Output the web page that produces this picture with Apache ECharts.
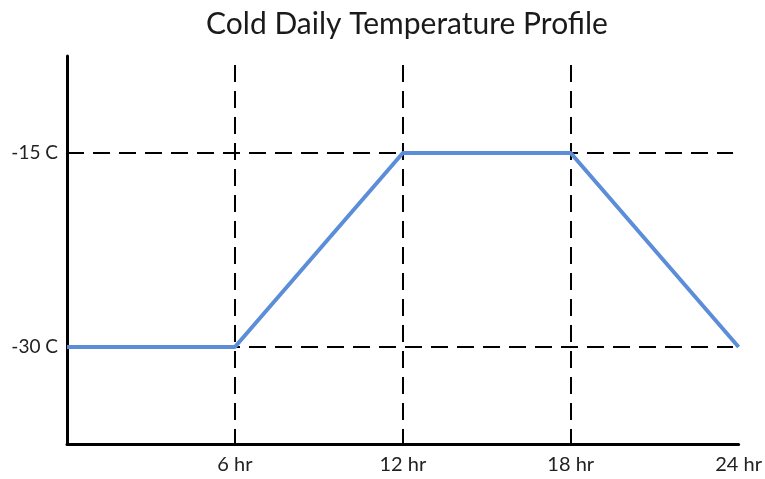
<!DOCTYPE html>
<html><head><meta charset="utf-8">
<script src="https://cdn.jsdelivr.net/npm/echarts@6/dist/echarts.min.js"></script>
<style>html,body{margin:0;padding:0;background:#fff}#c{width:765px;height:479px}</style>
</head><body><div id="c"></div>
<script>
const hours = [0, 6, 12, 18, 24];
const temps = [-30, -30, -15, -15, -30];
const xTickLabels = {6: '6 hr', 12: '12 hr', 18: '18 hr', 24: '24 hr'};
const yTickLabels = {'-15': '-15 C', '-30': '-30 C'};
const guideHours = [6, 12, 18];
const guideTemps = [-15, -30];
const guideTop = -8.2;
const guideRight = 23.8;
const FONT = 'Lato';

const chart = echarts.init(document.getElementById('c'));
chart.setOption({
  animation: false,
  title: {text: 'Cold Daily Temperature Profile', left: 402, textAlign: 'center', top: 4,
    textStyle: {fontFamily: FONT, fontWeight: 'normal', fontSize: 30, color: '#1a1a1a'}},
  grid: {left: 67, right: 25, top: 56, bottom: 35},
  xAxis: {type: 'value', min: 0, max: 24, interval: 6,
    axisLine: {lineStyle: {color: '#000', width: 3}},
    axisTick: {show: false}, splitLine: {show: false},
    axisLabel: {fontFamily: FONT, fontSize: 20, color: '#222', margin: 11,
      formatter: v => xTickLabels[v] || ''}},
  yAxis: {type: 'value', min: -37.5, max: -7.5, interval: 7.5,
    axisLine: {show: true, lineStyle: {color: '#000', width: 3}},
    axisTick: {show: false}, splitLine: {show: false},
    axisLabel: {fontFamily: FONT, fontSize: 19, color: '#222', margin: 9,
      formatter: v => yTickLabels[String(v)] || ''}},
  series: [{
    type: 'line', data: hours.map((h, i) => [h, temps[i]]),
    symbol: 'none', lineStyle: {color: '#5B8DD9', width: 4}, z: 5,
    markLine: {silent: true, symbol: 'none', label: {show: false},
      lineStyle: {color: '#000', width: 2, type: [17, 9]},
      data: guideHours.map(h => [{coord: [h, guideTop]}, {coord: [h, -37.5]}])
        .concat(guideTemps.map(t => [{coord: [0, t]}, {coord: [guideRight, t]}]))}
  }]
});
</script></body></html>
